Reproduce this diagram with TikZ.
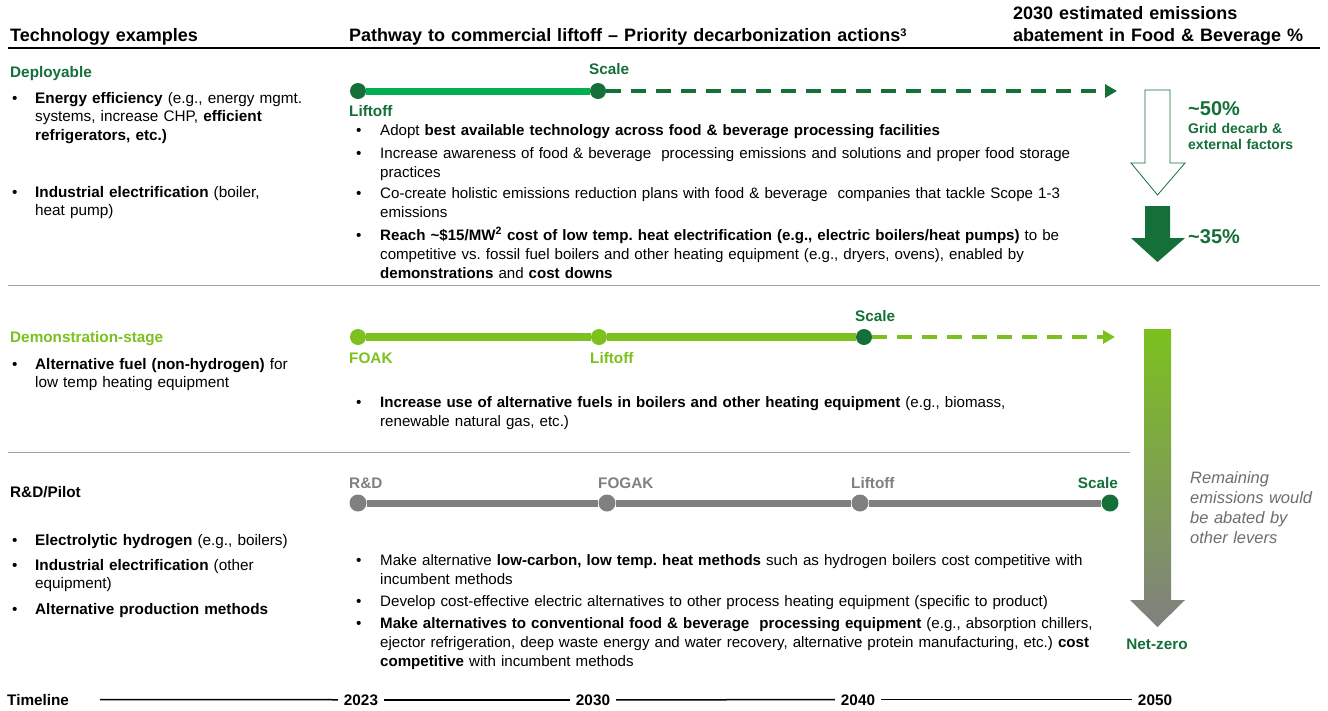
\documentclass[tikz,border=0pt]{standalone}
\usepackage{fontspec}
\setmainfont{Liberation Sans}
\usepackage{tikz}
\usetikzlibrary{arrows.meta, positioning}
\frenchspacing

\definecolor{dkgreen}{RGB}{20,112,56}
\definecolor{brgreen}{RGB}{0,176,80}
\definecolor{ltgreen}{RGB}{124,193,30}
\definecolor{midgray}{RGB}{128,128,128}
\definecolor{rulegray}{RGB}{160,160,160}
\definecolor{notegray}{RGB}{110,110,110}

\begin{document}
\begin{tikzpicture}[
		x = 1pt, y = -1pt,
		every node/.style = {inner sep = 0pt},
		head/.style = {anchor = base west, align = left, text width = 330pt, font = \fontsize{18}{22}\selectfont\bfseries},
		txt/.style = {anchor = base west, align = left, text width = 760pt, font = \fontsize{15.1}{19}\selectfont},
		ltxt/.style = {txt, text width = 310pt, font = \fontsize{15.3}{18.5}\selectfont},
		stage/.style = {anchor = base west, font = \fontsize{15.3}{19}\selectfont\bfseries},
		dot/.style = {anchor = base west, font = \fontsize{15.3}{19}\selectfont},
		mile/.style = {circle, minimum size = 16pt},
		lbl/.style = {font = \fontsize{15.3}{19}\selectfont\bfseries},
		bar/.style = {line width = 7pt},
		dash line/.style = {line width = 4pt, dash pattern = on 15pt off 10pt, -{Triangle[length = 12pt, width = 13pt]}},
		year/.style = {anchor = base, inner xsep = 6pt, font = \fontsize{15.3}{19}\selectfont\bfseries},
		rule/.style = {rulegray, line width = 1pt}
		]
		\useasboundingbox (0,0) rectangle (1328,710);
		\fill[white] (0,0) rectangle (1328,710);
		
		% column headings
		\node[head] (hTech) at (10,41) {Technology examples};
		\node[head, text width = 620pt] (hPath) at (349,41) {Pathway to commercial liftoff -- Priority decarbonization actions\raisebox{0.5ex}{\fontsize{11}{11}\selectfont 3}};
		\node[head] (hAbate) at (1013,19) {2030 estimated emissions\\abatement in Food \& Beverage \%};
		\draw[line width = 1.5pt] (8,48) -- (1320,48);
		\draw[rule] (8,285) -- (1320,285);
		\draw[rule] (8,452) -- (1130,452);
		
		% left column
		\node[stage, dkgreen] (sDep) at (10,77) {Deployable};
		\node[ltxt] (lt1) at (35,103) {\textbf{Energy efficiency} (e.g., energy mgmt.\\systems, increase CHP, \textbf{efficient}\\\textbf{refrigerators, etc.)}};
		\node[ltxt] (lt2) at (35,197) {\textbf{Industrial electrification} (boiler,\\heat pump)};
		\node[stage, ltgreen] (sDemo) at (10,342) {Demonstration-stage};
		\node[ltxt] (lt3) at (35,369) {\textbf{Alternative fuel (non-hydrogen)} for\\low temp heating equipment};
		\node[stage] (sRD) at (10,497) {R\&D/Pilot};
		\node[ltxt] (lt4) at (35,545) {\textbf{Electrolytic hydrogen} (e.g., boilers)};
		\node[ltxt] (lt5) at (35,570) {\textbf{Industrial electrification} (other\\equipment)};
		\node[ltxt] (lt6) at (35,614) {\textbf{Alternative production methods}};
		\foreach \yy [count = \i] in {103,197,369,545,570,614}
			\node[dot] (lb\i) at (12,\yy) {\textbullet};
		
		% Deployable pathway
		\node[mile, fill = dkgreen] (dL) at (358,91) {};
		\node[mile, fill = dkgreen] (dS) at (598,91) {};
		\coordinate (dE) at (1117,91);
		\draw[bar, brgreen] (dL) -- (dS);
		\draw[dash line, dkgreen] (dS) -- (dE);
		\node[lbl, dkgreen, anchor = base west] (dLl) at ([xshift = -9pt, yshift = -25pt]dL.center) {Liftoff};
		\node[lbl, dkgreen, anchor = base west] (dSl) at ([xshift = -9pt, yshift = 17pt]dS.center) {Scale};
		
		% Demonstration pathway
		\node[mile, fill = ltgreen] (mF) at (358,337) {};
		\node[mile, fill = ltgreen] (mL) at (599,337) {};
		\node[mile, fill = dkgreen] (mS) at (864,337) {};
		\coordinate (mE) at (1115,337);
		\draw[bar, line width = 8pt, ltgreen] (mF) -- (mL);
		\draw[bar, line width = 8pt, ltgreen] (mL) -- (mS);
		\draw[dash line, ltgreen] (mS) -- (mE);
		\node[lbl, ltgreen, anchor = base west] (mFl) at ([xshift = -9pt, yshift = -26pt]mF.center) {FOAK};
		\node[lbl, ltgreen, anchor = base west] (mLl) at ([xshift = -9pt, yshift = -26pt]mL.center) {Liftoff};
		\node[lbl, dkgreen, anchor = base west] (mSl) at ([xshift = -9pt, yshift = 16pt]mS.center) {Scale};
		
		% R&D pathway
		\node[mile, minimum size = 17pt, fill = midgray] (rR) at (358,503) {};
		\node[mile, minimum size = 17pt, fill = midgray] (rF) at (607,503) {};
		\node[mile, minimum size = 17pt, fill = midgray] (rL) at (860,503) {};
		\node[mile, minimum size = 17pt, fill = dkgreen] (rS) at (1110,503) {};
		\draw[bar, midgray] (rR) -- (rF);
		\draw[bar, midgray] (rF) -- (rL);
		\draw[bar, midgray] (rL) -- (rS);
		\node[lbl, midgray, anchor = base west] (rRl) at ([xshift = -9pt, yshift = 15pt]rR.center) {R\&D};
		\node[lbl, midgray, anchor = base west] (rFl) at ([xshift = -9pt, yshift = 15pt]rF.center) {FOGAK};
		\node[lbl, midgray, anchor = base west] (rLl) at ([xshift = -9pt, yshift = 15pt]rL.center) {Liftoff};
		\node[lbl, dkgreen, anchor = base east] (rSl) at ([xshift = 8pt, yshift = 15pt]rS.center) {Scale};
		
		% priority actions
		\node[txt] (a1) at (380,135) {Adopt \textbf{best available technology across food \& beverage processing facilities}};
		\node[txt] (a2) at (380,158) {Increase awareness of food \& beverage\ \ processing emissions and solutions and proper food storage\\practices};
		\node[txt] (a3) at (380,198) {Co-create holistic emissions reduction plans with food \& beverage\ \ companies that tackle Scope 1-3\\emissions};
		\node[txt] (a4) at (380,240) {\textbf{Reach \textasciitilde\$15/MW\textsuperscript{2} cost of low temp. heat electrification (e.g., electric boilers/heat pumps)} to be\\competitive vs. fossil fuel boilers and other heating equipment (e.g., dryers, ovens), enabled by\\\textbf{demonstrations} and \textbf{cost downs}};
		\node[txt] (a5) at (380,407) {\textbf{Increase use of alternative fuels in boilers and other heating equipment} (e.g., biomass,\\renewable natural gas, etc.)};
		\node[txt] (a6) at (380,565) {Make alternative \textbf{low-carbon, low temp. heat methods} such as hydrogen boilers cost competitive with\\incumbent methods};
		\node[txt] (a7) at (380,606) {Develop cost-effective electric alternatives to other process heating equipment (specific to product)};
		\node[txt] (a8) at (380,628) {\textbf{Make alternatives to conventional food \& beverage\ \ processing equipment} (e.g., absorption chillers,\\ejector refrigeration, deep waste energy and water recovery, alternative protein manufacturing, etc.) \textbf{cost}\\\textbf{competitive} with incumbent methods};
		\foreach \yy [count = \i] in {135,158,198,240,407,565,606,628}
			\node[dot] (mb\i) at (356,\yy) {\textbullet};
		
		% abatement arrows
		\draw[dkgreen, line width = 0.8pt, fill = white] (1145,90) -- (1170,90) -- (1170,163) -- (1185,163) -- (1157.5,195) -- (1131,163) -- (1145,163) -- cycle;
		\fill[dkgreen] (1145,206) -- (1170,206) -- (1170,238) -- (1185,238) -- (1157.5,262) -- (1131,238) -- (1145,238) -- cycle;
		\shade[top color = ltgreen, bottom color = midgray] (1144,329) -- (1171,329) -- (1171,600) -- (1185,600) -- (1157.5,627) -- (1130,600) -- (1144,600) -- cycle;
		\node[anchor = base west, dkgreen, font = \fontsize{20}{24}\selectfont\bfseries] (p50) at (1188,115) {\textasciitilde50\%};
		\node[anchor = base west, align = left, text width = 140pt, dkgreen, font = \fontsize{14}{16}\selectfont\bfseries] (pGrid) at (1188,133) {Grid decarb \&\\external factors};
		\node[anchor = base west, dkgreen, font = \fontsize{20}{24}\selectfont\bfseries] (p35) at (1188,243) {\textasciitilde35\%};
		\node[anchor = base west, align = left, text width = 140pt, notegray, font = \fontsize{16.5}{20}\selectfont\itshape] (pRest) at (1190,483) {Remaining\\emissions would\\be abated by\\other levers};
		\node[lbl, dkgreen, anchor = base] (pNet) at (1157,649) {Net-zero};
		
		% timeline
		\node[stage] (tLab) at (7,705) {Timeline};
		\coordinate (t0) at (100,699.5);
		\node[year] (y23) at (361,705) {2023};
		\node[year] (y30) at (593,705) {2030};
		\node[year] (y40) at (858,705) {2040};
		\node[year] (y50) at (1155,705) {2050};
		\draw[line width = 1.5pt] (t0) -- (y23.west);
		\foreach \a/\b in {y23/y30, y30/y40, y40/y50}
			\draw[line width = 1.5pt] (\a.east) -- (\b.west);
	\end{tikzpicture}
\end{document}
